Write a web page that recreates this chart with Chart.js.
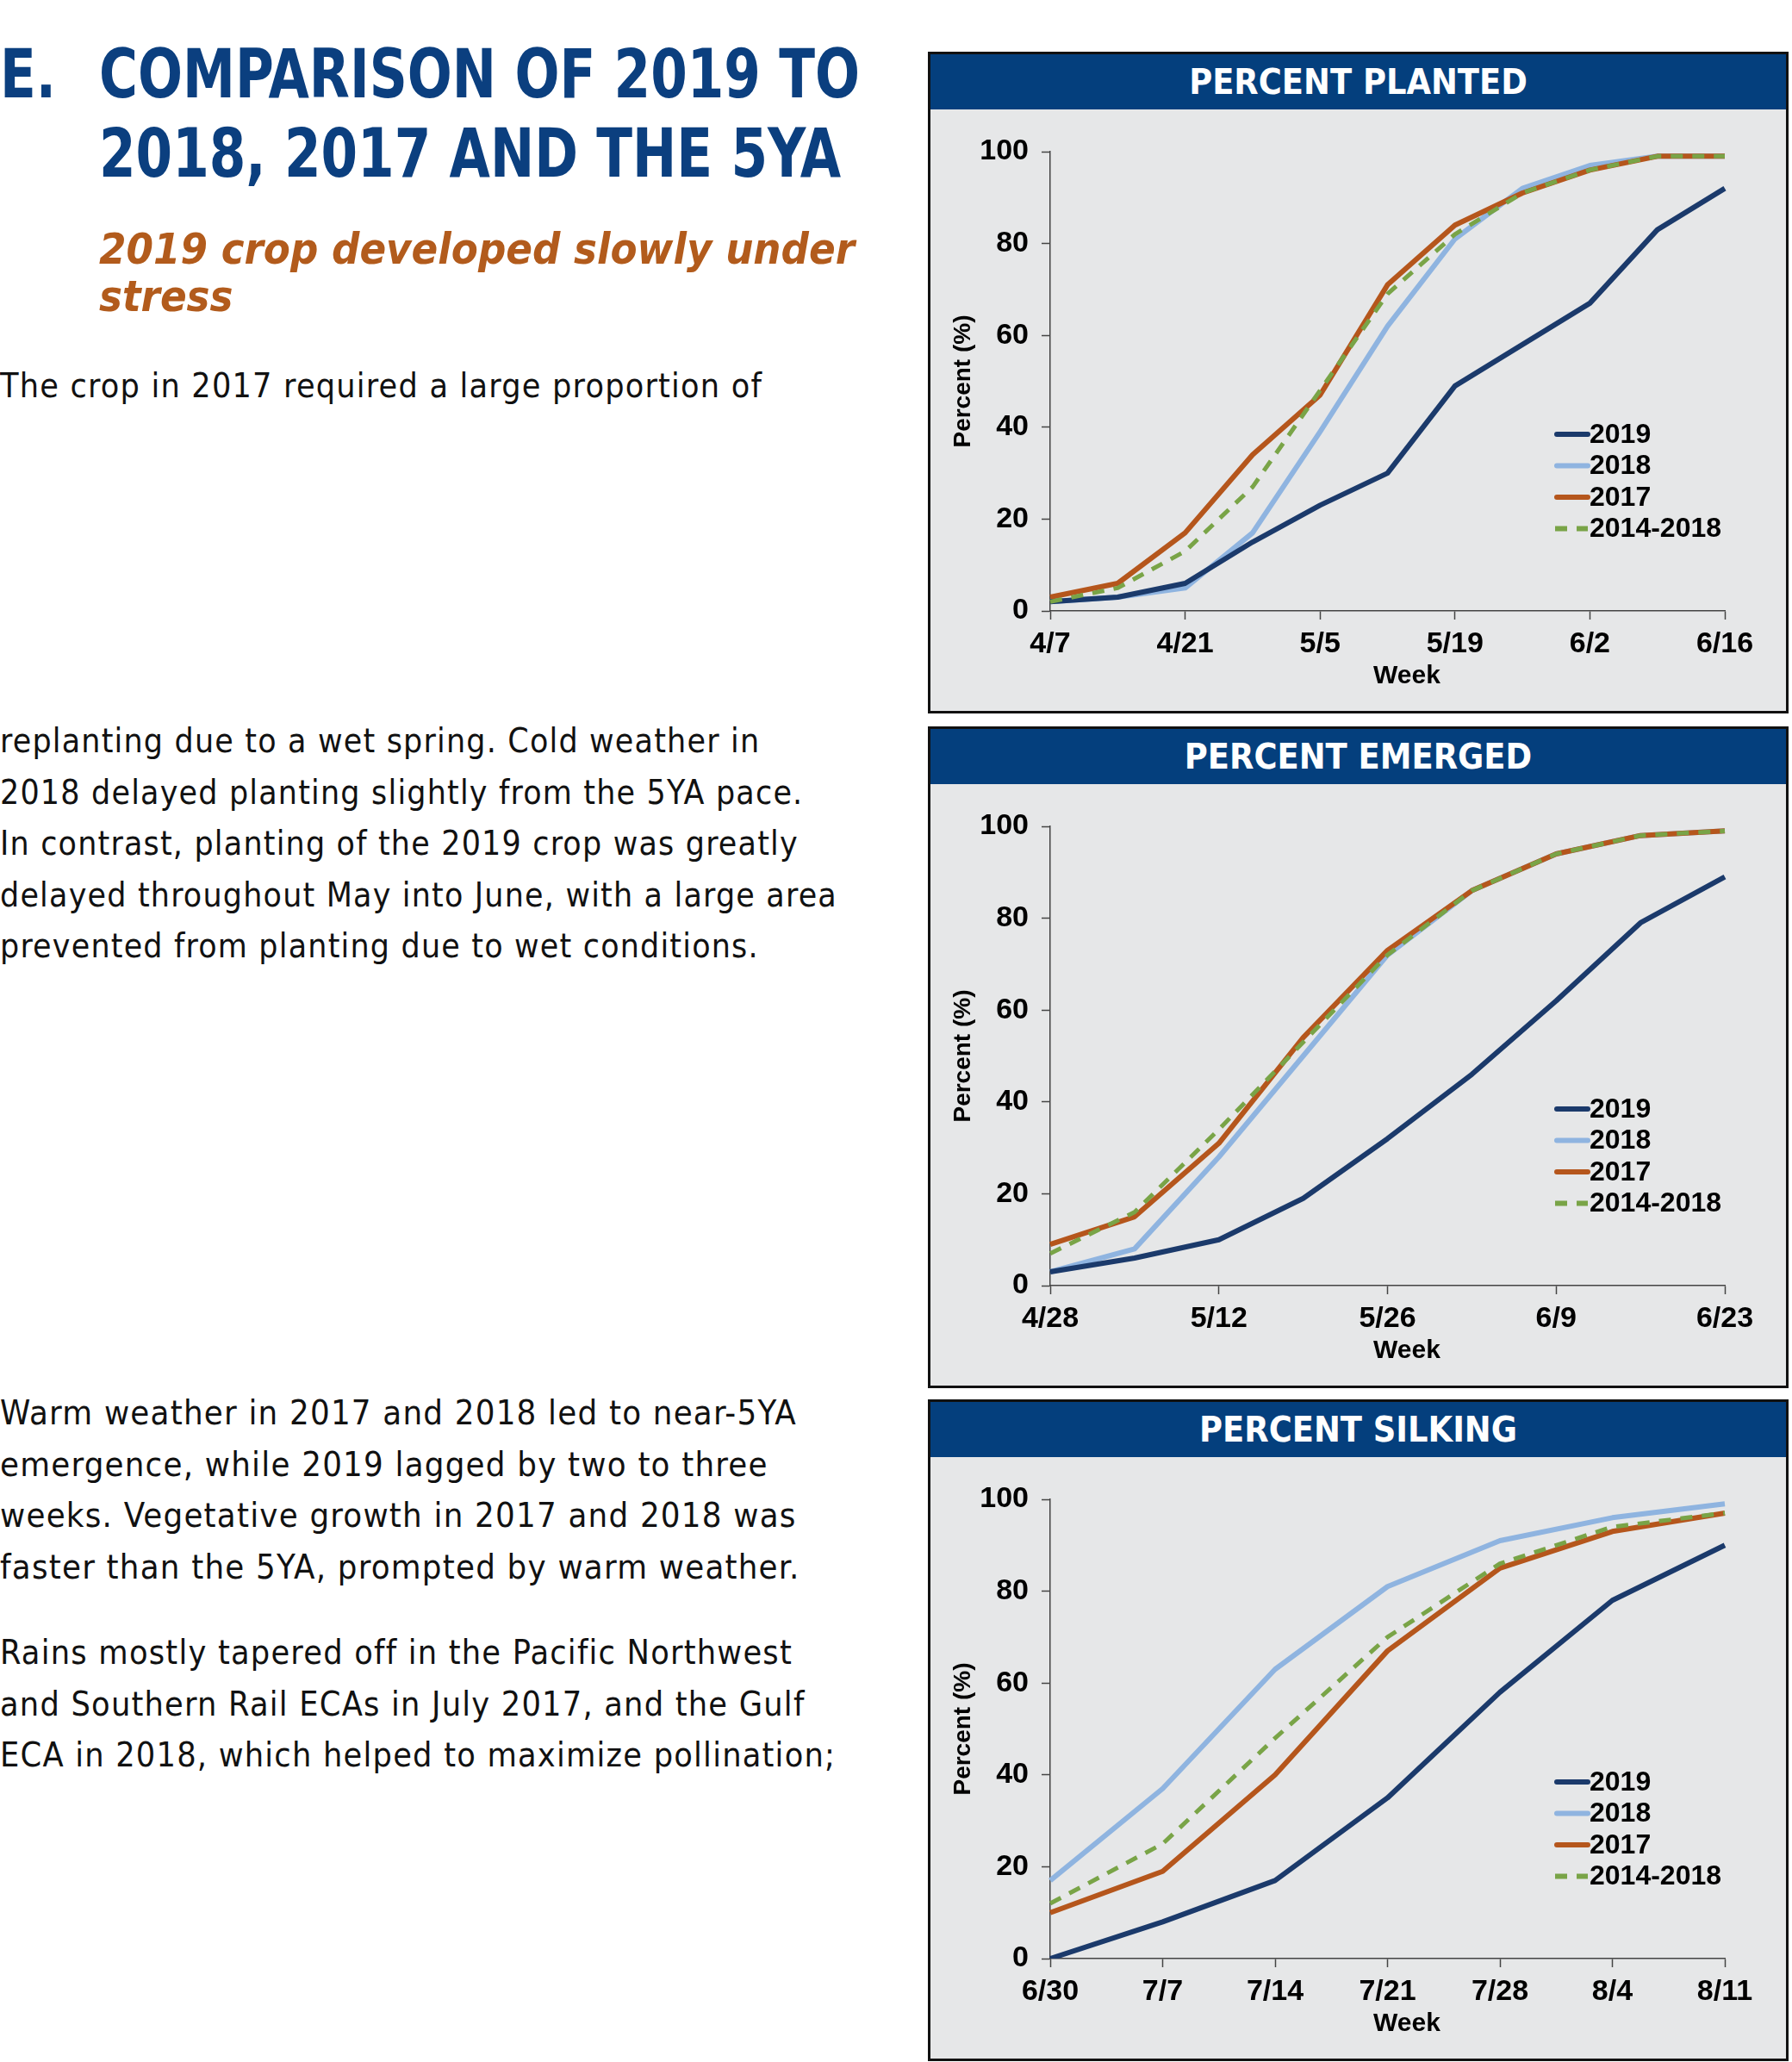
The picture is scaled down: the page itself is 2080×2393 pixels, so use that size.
<!DOCTYPE html>
<html>
<head>
<meta charset="utf-8">
<script src="https://cdn.jsdelivr.net/npm/chart.js@4.4.0/dist/chart.umd.min.js"></script>
<style>
  html, body { margin: 0; padding: 0; background: #fff; }
  body { width: 2080px; height: 2393px; position: relative; overflow: hidden; }
  .narrow { font-family: 'DejaVu Sans Condensed', 'Liberation Sans', sans-serif; }
  .fit { transform-origin: left top; }
  .title { position: absolute; color: #0b3f7f; font-weight: bold; font-size: 78px; line-height: 92px; white-space: nowrap; }
  .sub { position: absolute; left: 115px; color: #b25b1c; font-weight: bold; font-style: italic; font-size: 50px; line-height: 55px; white-space: nowrap; }
  .body { position: absolute; left: 0; color: #111; font-size: 39px; line-height: 59.5px; letter-spacing: 1.2px; white-space: nowrap; }
  .panel { position: absolute; left: 1077px; width: 999px; height: 768px; box-sizing: border-box; border: 3px solid #111; background: #e6e7e8; }
  .panel .head { height: 64px; background: #043f7d; color: #fff; font-weight: bold; font-size: 41px; line-height: 64px; text-align: center; }
  .panel canvas { display: block; }
</style>
</head>
<body>
<div class="title narrow fit" id="titleE" style="left:0; top:40px;">E.</div>
<div class="title narrow fit" id="titleMain" style="left:115px; top:40px;"><span class="first">COMPARISON OF 2019 TO</span><br>2018, 2017 AND THE 5YA</div>
<div class="sub narrow fit" id="subTitle" style="top:262px;"><span class="first">2019 crop developed slowly under</span><br>stress</div>

<div class="body narrow fit" id="para0" style="top:418px;"><span class="first">The crop in 2017 required a large proportion of</span></div>
<div class="body narrow fit" id="para1" style="top:830px;">replanting due to a wet spring. Cold weather in<br>2018 delayed planting slightly from the 5YA pace.<br>In contrast, planting of the 2019 crop was greatly<br><span class="first">delayed throughout May into June, with a large area</span><br>prevented from planting due to wet conditions.</div>
<div class="body narrow fit" id="para2" style="top:1610px;"><span class="first">Warm weather in 2017 and 2018 led to near-5YA</span><br>emergence, while 2019 lagged by two to three<br>weeks. Vegetative growth in 2017 and 2018 was<br>faster than the 5YA, prompted by warm weather.</div>
<div class="body narrow fit" id="para3" style="top:1888px;"><span class="first">Rains mostly tapered off in the Pacific Northwest</span><br>and Southern Rail ECAs in July 2017, and the Gulf<br>ECA in 2018, which helped to maximize pollination;</div>

<div class="panel" style="top:60px;"><div class="head narrow">PERCENT PLANTED</div><canvas id="plantedChart" width="993" height="698"></canvas></div>
<div class="panel" style="top:843px;"><div class="head narrow">PERCENT EMERGED</div><canvas id="emergedChart" width="993" height="698"></canvas></div>
<div class="panel" style="top:1624px;"><div class="head narrow">PERCENT SILKING</div><canvas id="silkingChart" width="993" height="698"></canvas></div>

<script>
// series labels
const seriesLabels = ['2019', '2018', '2017', '2014-2018'];

// planted, weekly
const plantedWeeks = ['4/7', '4/14', '4/21', '4/28', '5/5', '5/12', '5/19', '5/26', '6/2', '6/9', '6/16'];
const planted2019 = [2, 3, 6, 15, 23, 30, 49, 58, 67, 83, 92];
const planted2018 = [2, 3, 5, 17, 39, 62, 81, 92, 97, 99, 99];
const planted2017 = [3, 6, 17, 34, 47, 71, 84, 91, 96, 99, 99];
const planted5ya = [2, 5, 13, 27, 48, 69, 82, 91, 96, 99, 99];

// emerged, weekly
const emergedWeeks = ['4/28', '5/5', '5/12', '5/19', '5/26', '6/2', '6/9', '6/16', '6/23'];
const emerged2019 = [3, 6, 10, 19, 32, 46, 62, 79, 89];
const emerged2018 = [3, 8, 28, 50, 72, 86, 94, 98, 99];
const emerged2017 = [9, 15, 31, 54, 73, 86, 94, 98, 99];
const emerged5ya = [7, 16, 34, 53, 72, 86, 94, 98, 99];

// silking, weekly
const silkingWeeks = ['6/30', '7/7', '7/14', '7/21', '7/28', '8/4', '8/11'];
const silking2019 = [0, 8, 17, 35, 58, 78, 90];
const silking2018 = [17, 37, 63, 81, 91, 96, 99];
const silking2017 = [10, 19, 40, 67, 85, 93, 97];
const silking5ya = [12, 25, 48, 70, 86, 94, 97];

const chartFamily = "'Liberation Sans', Arial, sans-serif";
const axisFont = { family: chartFamily, size: 34, weight: 'bold' };

// squeeze a text block so its measured line matches the width in the page
function fitBlock(id, target, scale) {
    const el = document.getElementById(id);
    const first = el.querySelector('.first');
    const s = scale || target / first.getBoundingClientRect().width;
    el.style.transform = `scaleX(${s})`;
    return s;
}

// legend drawn inside the plot, lower right
const insideLegend = {
    id: 'insideLegend',
    afterDatasetsDraw(chart) {
        const ctx = chart.ctx;
        const area = chart.chartArea;
        const x0 = area.right - 197;
        ctx.save();
        ctx.font = `bold 32px ${chartFamily}`;
        ctx.textBaseline = 'middle';
        chart.data.datasets.forEach((ds, i) => {
            const y = area.top + 328 + i * 36.5;
            ctx.strokeStyle = ds.borderColor;
            ctx.lineWidth = 6;
            ctx.lineCap = ds.borderDash ? 'butt' : 'round';
            ctx.setLineDash(ds.borderDash || []);
            ctx.beginPath();
            ctx.moveTo(x0 + (ds.borderDash ? 0 : 2), y);
            ctx.lineTo(x0 + 38, y);
            ctx.stroke();
            ctx.setLineDash([]);
            ctx.fillStyle = '#000';
            ctx.fillText(ds.label, x0 + 40, y + 1);
        });
        ctx.restore();
    }
};

function makeChart(id, weeks, s2019, s2018, s2017, s5ya, step) {
    const ctx = document.getElementById(id).getContext('2d');
    const datasets = [
        { label: seriesLabels[0], data: s2019, borderColor: '#1b3a6b', borderWidth: 6, order: 1 },
        { label: seriesLabels[1], data: s2018, borderColor: '#8fb4e0', borderWidth: 6, order: 3 },
        { label: seriesLabels[2], data: s2017, borderColor: '#b5561c', borderWidth: 6, order: 2 },
        { label: seriesLabels[3], data: s5ya, borderColor: '#79a447', borderDash: [14, 11], borderWidth: 5, order: 0 }
    ];
    datasets.forEach(ds => {
        ds.pointRadius = 0;
        ds.tension = 0;
        ds.borderJoinStyle = 'round';
        ds.fill = false;
    });
    return new Chart(ctx, {
        type: 'line',
        data: { labels: weeks, datasets: datasets },
        options: {
            responsive: false,
            animation: false,
            devicePixelRatio: 1,
            layout: { padding: { left: 0, right: 71, top: 49, bottom: 0 } },
            plugins: { legend: { display: false }, tooltip: { enabled: false } },
            scales: {
                x: {
                    type: 'category',
                    offset: false,
                    afterFit: s => { s.height = 116; },
                    grid: {
                        drawOnChartArea: false,
                        tickLength: 10,
                        tickWidth: 1.5,
                        tickColor: c => (c.index % step === 0 ? '#444' : 'rgba(0,0,0,0)')
                    },
                    border: { color: '#444', width: 1.5 },
                    ticks: {
                        autoSkip: false,
                        maxRotation: 0,
                        padding: 8,
                        color: '#000',
                        font: axisFont,
                        callback: (v, i) => (i % step === 0 ? weeks[i] : '')
                    },
                    title: { display: true, text: '\u2002\u2002\u2002Week', color: '#000', font: { family: chartFamily, size: 30, weight: 'bold' }, padding: { top: 0, bottom: 22 } }
                },
                y: {
                    min: 0,
                    max: 100,
                    afterFit: s => { s.width = 139; },
                    grid: { drawOnChartArea: false, tickLength: 10, tickWidth: 1.5, tickColor: '#444' },
                    border: { color: '#444', width: 1.5 },
                    ticks: { stepSize: 20, padding: 15, color: '#000', font: axisFont },
                    title: { display: true, text: 'Percent (%)', color: '#000', font: { family: chartFamily, size: 28, weight: 'bold' }, padding: { top: 21, bottom: 0 } }
                }
            }
        },
        plugins: [insideLegend]
    });
}

document.addEventListener('DOMContentLoaded', () => {
    // fit text blocks to the widths measured on the page
    const ts = fitBlock('titleMain', 883);
    fitBlock('titleE', 0, ts);
    fitBlock('subTitle', 877);
    fitBlock('para0', 885);
    fitBlock('para1', 972);
    fitBlock('para2', 925);
    fitBlock('para3', 920);

    makeChart('plantedChart', plantedWeeks, planted2019, planted2018, planted2017, planted5ya, 2);
    makeChart('emergedChart', emergedWeeks, emerged2019, emerged2018, emerged2017, emerged5ya, 2);
    makeChart('silkingChart', silkingWeeks, silking2019, silking2018, silking2017, silking5ya, 1);
});
</script>
</body>
</html>
